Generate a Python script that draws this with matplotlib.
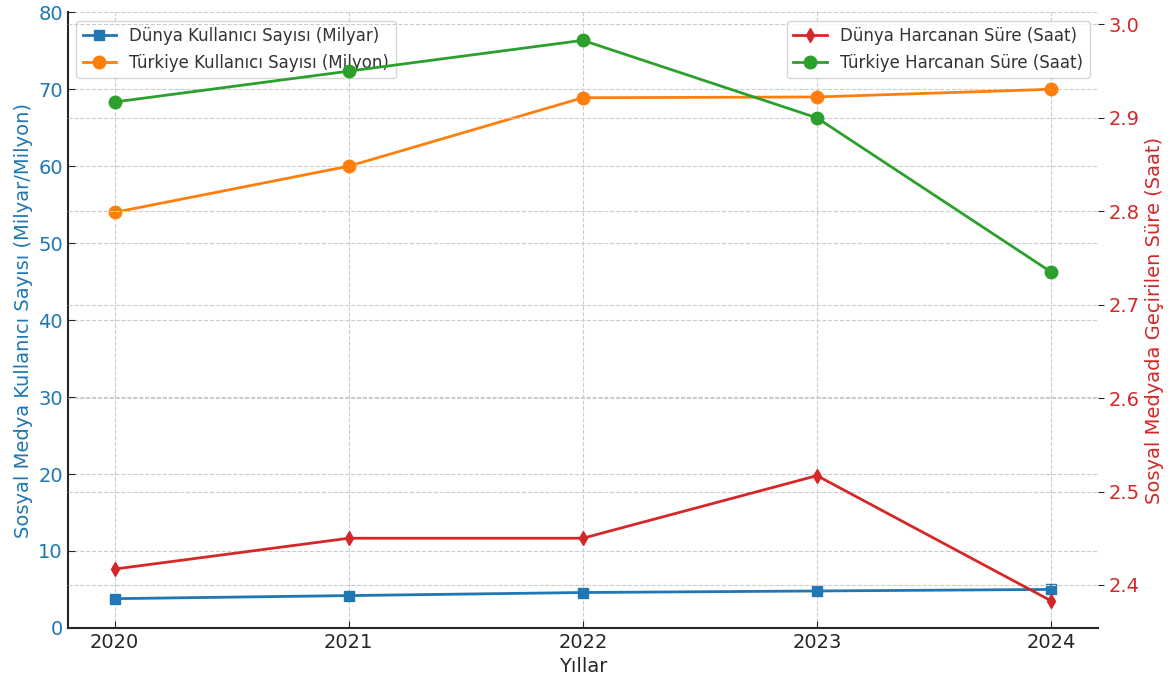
import matplotlib
matplotlib.use("Agg")
import matplotlib.pyplot as plt

years = [2020, 2021, 2022, 2023, 2024]
dunya_kullanici = [3.8, 4.2, 4.6, 4.8, 5.0]            # milyar
turkiye_kullanici = [54.0, 60.0, 68.9, 69.0, 70.0]      # milyon
dunya_sure = [2.417, 2.45, 2.45, 2.517, 2.383]          # saat
turkiye_sure = [2.917, 2.95, 2.983, 2.90, 2.735]        # saat

BLUE, ORANGE, RED, GREEN = "#1f77b4", "#ff7f0e", "#d62728", "#2ca02c"
plt.rcParams["font.family"] = "DejaVu Sans"

fig, ax = plt.subplots(figsize=(11.68, 6.84), dpi=100)
fig.subplots_adjust(left=0.058, right=0.94, top=0.982, bottom=0.082)

ax.plot(years, dunya_kullanici, "s-", color=BLUE, lw=2, ms=7, label="Dünya Kullanıcı Sayısı (Milyar)")
ax.plot(years, turkiye_kullanici, "o-", color=ORANGE, lw=2, ms=9, label="Türkiye Kullanıcı Sayısı (Milyon)")
ax.set_ylim(0, 80)
ax.set_xlim(2019.8, 2024.2)
ax.set_xticks(years)
ax.set_xlabel("Yıllar", fontsize=14, color="#262626")
ax.set_ylabel("Sosyal Medya Kullanıcı Sayısı (Milyar/Milyon)", fontsize=14, color=BLUE)
ax.tick_params(axis="y", labelcolor=BLUE, labelsize=14, color="#262626", direction="in", length=5)
ax.tick_params(axis="x", labelsize=14, labelcolor="#262626", color="#262626", direction="in", length=5)
ax.grid(True, ls="--", color="#cccccc", lw=0.8)

ax2 = ax.twinx()
ax2.plot(years, dunya_sure, "d-", color=RED, lw=2, ms=7, label="Dünya Harcanan Süre (Saat)")
ax2.plot(years, turkiye_sure, "o-", color=GREEN, lw=2, ms=9, label="Türkiye Harcanan Süre (Saat)")
ax2.set_ylim(2.354, 3.013)
ax2.set_ylabel("Sosyal Medyada Geçirilen Süre (Saat)", fontsize=14, color=RED)
ax2.tick_params(axis="y", labelcolor=RED, labelsize=14, color="#262626", length=4)
ax2.grid(True, ls="--", color="#cccccc", lw=0.8)

for a in (ax, ax2):
    a.spines["top"].set_visible(False)
    a.spines["right"].set_visible(False)
    for s in ("left", "bottom"):
        a.spines[s].set_color("#262626")
        a.spines[s].set_linewidth(1.5)
ax2.spines["left"].set_visible(False)
ax2.spines["bottom"].set_visible(False)

leg1 = ax.legend(loc="upper left", fontsize=12, bbox_to_anchor=(0.0, 1.0))
leg2 = ax2.legend(loc="upper right", fontsize=12, bbox_to_anchor=(1.0, 1.0))
for lg in (leg1, leg2):
    for t in lg.get_texts():
        t.set_color("#333333")

fig.savefig("out.png", dpi=100)
